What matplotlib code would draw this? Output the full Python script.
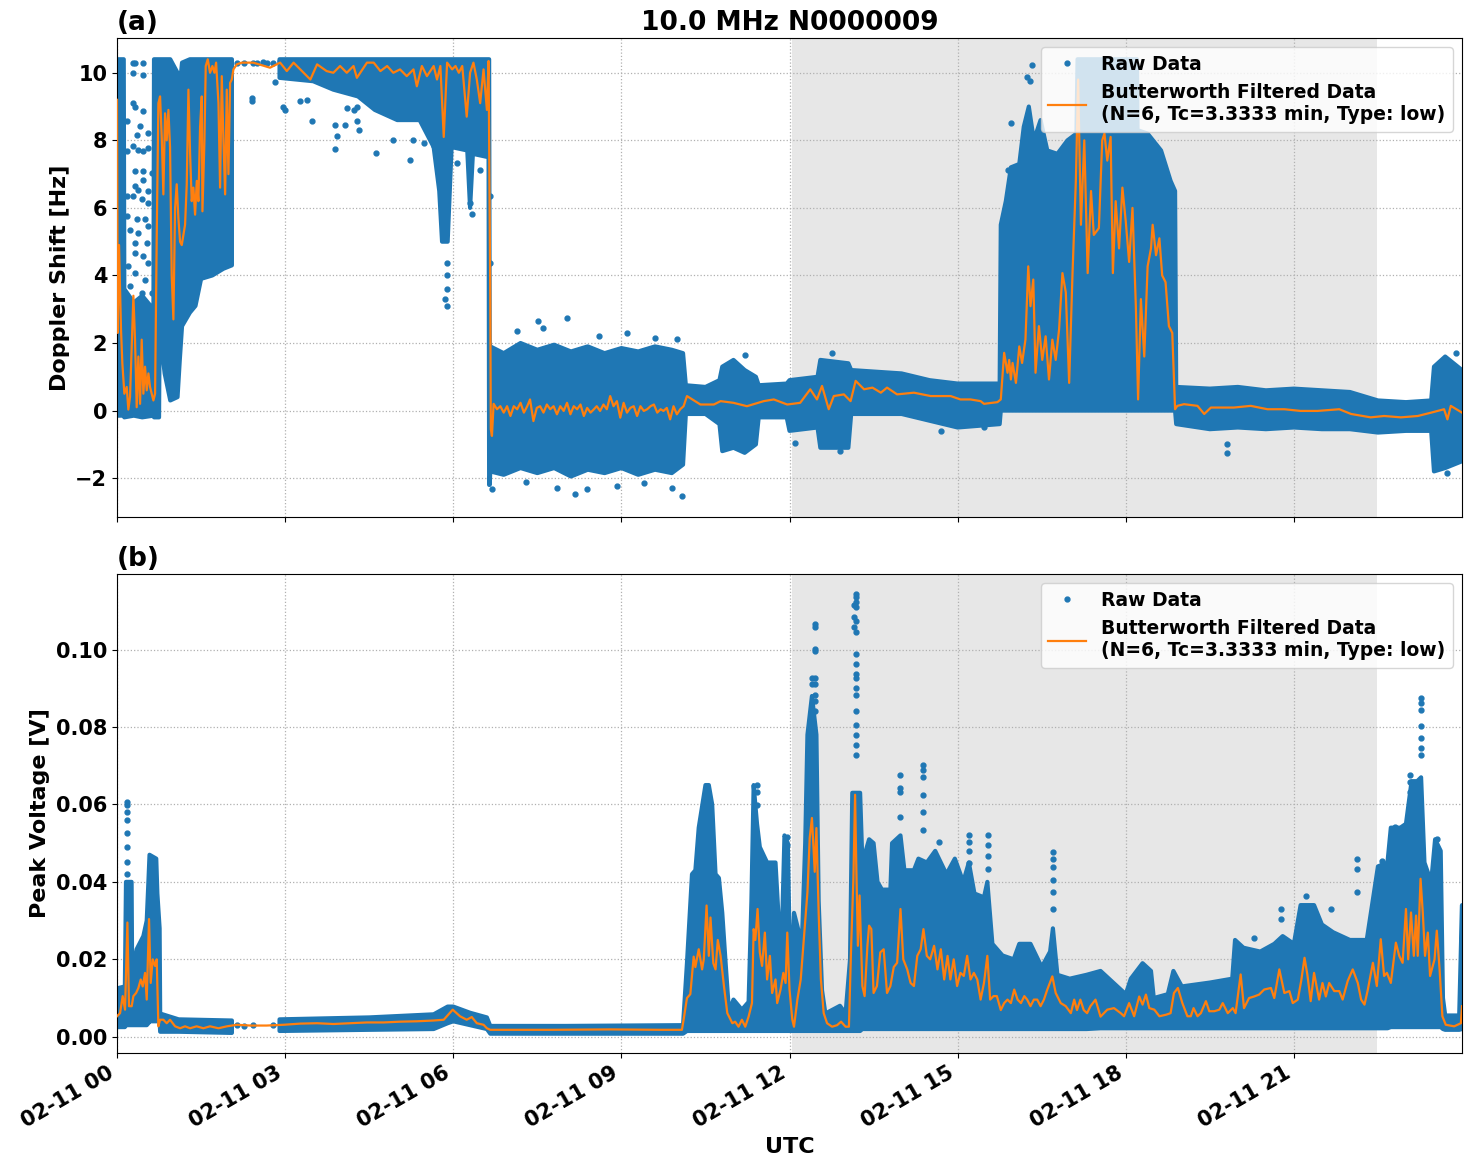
import numpy as np
import pandas as pd
import matplotlib
matplotlib.use("Agg")
import matplotlib.pyplot as plt
import matplotlib.dates as mdates

nan = np.nan

# ---------------- data (hours after 2024-02-11 00:00 UTC) ----------------
# panel (a): envelope of the dense raw Doppler scatter, rows of (hour, low, high)
dop_env = [
    (0.00, -0.15, 10.4), (0.12, -0.15, 10.4), (0.13, -0.2, 3.6), (0.30, -0.15, 3.2), (0.45, -0.2, 3.4),
    (0.65, -0.15, 3.0), (0.66, -0.2, 10.4), (0.75, -0.2, 10.4), (0.76, 2.4, 10.4), (0.85, 1.1, 10.4),
    (0.95, 0.3, 10.4), (1.08, 0.4, 10.0), (1.12, 1.5, 9.6), (1.16, 2.5, 10.3), (1.30, 2.9, 10.4),
    (1.40, 3.1, 10.4), (1.50, 3.9, 10.4), (1.70, 4.0, 10.4), (1.90, 4.2, 10.4), (2.05, 4.3, 10.4),
    (2.06, nan, nan), (2.88, nan, nan), (2.90, 9.85, 10.4), (3.50, 9.75, 10.4), (3.86, 9.5, 10.4),
    (4.30, 9.3, 10.4), (4.60, 8.9, 10.4), (5.00, 8.6, 10.4), (5.40, 8.6, 10.4), (5.65, 7.8, 10.4),
    (5.75, 6.5, 10.4), (5.80, 5.0, 10.4), (5.90, 5.0, 10.4), (5.97, 7.8, 10.4), (6.25, 7.7, 10.4),
    (6.30, 6.0, 10.4), (6.35, 7.6, 10.4), (6.63, 7.5, 10.4), (6.64, -2.2, 10.4), (6.65, -2.2, 2.0),
    (6.66, -1.8, 1.9), (6.90, -1.9, 1.7), (7.20, -1.7, 2.0), (7.50, -1.85, 1.8), (7.80, -1.7, 1.95),
    (8.10, -1.95, 1.75), (8.40, -1.75, 1.9), (8.70, -1.85, 1.7), (9.00, -1.7, 1.85), (9.30, -1.9, 1.75),
    (9.60, -1.75, 1.9), (9.90, -1.85, 1.8), (10.10, -1.6, 1.7), (10.15, -0.1, 0.75), (10.50, -0.1, 0.7),
    (10.75, -0.4, 0.9), (10.80, -1.2, 1.3), (11.00, -1.1, 1.5), (11.20, -1.25, 1.2), (11.40, -1.0, 1.0),
    (11.45, -0.2, 0.75), (11.95, -0.2, 0.8), (12.00, -0.6, 0.9), (12.50, -0.5, 1.0), (12.55, -1.1, 1.5),
    (13.05, -1.1, 1.4), (13.10, -0.1, 1.2), (14.00, -0.1, 1.1), (14.50, -0.3, 0.9), (15.00, -0.5, 0.8),
    (15.75, -0.4, 0.8), (15.77, 0.0, 5.5), (15.86, 0.0, 6.2), (15.95, 0.0, 7.2), (16.10, 0.0, 7.3),
    (16.18, 0.0, 8.4), (16.27, 0.0, 9.0), (16.36, 0.0, 8.0), (16.48, 0.0, 8.6), (16.60, 0.0, 7.7),
    (16.78, 0.0, 7.6), (16.96, 0.0, 8.0), (17.12, 0.0, 8.2), (17.14, 0.0, 10.4), (18.20, 0.0, 10.4),
    (18.21, 0.0, 8.3), (18.39, 0.0, 8.2), (18.63, 0.0, 7.7), (18.80, 0.0, 6.8), (18.88, 0.0, 6.5),
    (18.90, -0.4, 0.7), (19.50, -0.55, 0.65), (20.00, -0.5, 0.7), (20.50, -0.55, 0.6), (21.00, -0.5, 0.65),
    (21.50, -0.55, 0.6), (22.00, -0.55, 0.55), (22.50, -0.65, 0.3), (23.00, -0.6, 0.25), (23.45, -0.6, 0.3),
    (23.50, -1.8, 1.3), (23.70, -1.7, 1.6), (24.00, -1.5, 1.2),
]
dop_env_t = [r[0] for r in dop_env]
dop_env_lo = [r[1] for r in dop_env]
dop_env_hi = [r[2] for r in dop_env]

# panel (a): isolated raw points outside the dense band
dop_pts_t = [0.292, 0.321, 0.47, 0.292, 0.47, 0.292, 0.321, 0.47, 0.173, 0.411, 0.351, 0.56, 0.292, 0.381,
             0.56, 0.173, 0.47, 0.321, 0.47, 0.619, 0.47, 0.321, 0.381, 0.56, 0.173, 0.292, 0.44, 0.56,
             0.173, 0.351, 0.5, 0.232, 0.56, 0.381, 0.321, 0.53, 0.321, 0.47, 0.202, 0.56, 0.321, 0.5,
             0.232, 0.619, 0.44, 0.321,
             2.14, 2.26, 2.43, 2.40, 2.40, 2.50, 2.60, 2.68, 2.79, 2.82, 2.91, 2.97, 3.00,
             3.27, 3.39, 3.48, 3.89, 3.92, 3.89, 4.07, 4.10, 4.22, 4.28, 4.28, 4.31,
             4.63, 4.93, 5.23, 5.29, 5.47, 5.65, 5.86, 5.89, 5.89, 5.89, 5.89, 6.07, 6.30, 6.33, 6.48,
             6.54, 6.66, 6.66,
             7.13, 7.52, 7.61, 8.03, 8.60, 9.10, 9.60, 9.99, 6.69, 7.30, 7.85, 8.18, 8.39, 8.92, 9.40,
             9.90, 10.08,
             11.20, 12.10, 12.75, 12.90, 14.70, 15.47, 15.89, 15.95, 16.24, 16.30, 16.33, 19.80, 19.80,
             23.68, 23.74, 23.90]
dop_pts_v = [10.29, 10.29, 10.29, 9.99, 9.94, 9.10, 9.0, 8.86, 8.56, 8.41, 8.17, 8.22, 7.82, 7.72,
             7.77, 7.67, 7.67, 7.08, 7.08, 7.03, 6.84, 6.64, 6.54, 6.49, 6.35, 6.35, 6.25, 6.15,
             5.76, 5.66, 5.66, 5.36, 5.46, 5.26, 4.97, 4.97, 4.67, 4.57, 4.27, 4.37, 4.08, 3.88,
             3.68, 3.49, 3.49, 3.09,
             10.29, 10.29, 10.29, 9.25, 9.15, 10.30, 10.32, 10.28, 10.29, 9.74, 10.34, 9.0, 8.91,
             9.15, 9.20, 8.56, 8.46, 8.12, 7.73, 8.46, 8.96, 8.91, 8.56, 9.0, 8.32,
             7.63, 8.02, 7.43, 8.02, 7.92, 7.82, 3.30, 4.37, 4.0, 3.59, 3.10, 7.33, 6.15, 5.81, 7.13,
             8.32, 6.35, 4.37,
             2.35, 2.65, 2.45, 2.75, 2.2, 2.3, 2.15, 2.12, -2.33, -2.1, -2.28, -2.48, -2.33, -2.23, -2.13,
             -2.28, -2.53,
             1.66, -0.95, 1.7, -1.2, -0.6, -0.5, 7.13, 8.5, 9.86, 9.76, 10.24, -1.0, -1.26,
             1.5, -1.85, 1.7]

# panel (a): Butterworth filtered Doppler shift
dop_filt_t = [0.0, 0.012, 0.036, 0.071, 0.095, 0.131, 0.173, 0.202, 0.232, 0.292, 0.321, 0.351, 0.381, 0.411,
              0.44, 0.47, 0.5, 0.53, 0.56, 0.589, 0.619, 0.649, 0.679, 0.708, 0.738, 0.768, 0.8, 0.827,
              0.857, 0.887, 0.917, 0.946, 0.976, 1.006, 1.036, 1.065, 1.095, 1.125, 1.155, 1.185, 1.214,
              1.244, 1.274, 1.304, 1.333, 1.363, 1.393, 1.423, 1.452, 1.482, 1.512, 1.524, 1.56, 1.583,
              1.619, 1.66, 1.702, 1.738, 1.768, 1.81, 1.839, 1.869, 1.899, 1.929, 1.958, 1.988, 2.018,
              2.048, 2.077, 2.137, 2.226,
              2.43, 2.73, 2.91, 3.03, 3.15, 3.27, 3.45, 3.57, 3.74, 3.86, 3.98, 4.1, 4.22, 4.28, 4.46,
              4.58, 4.7, 4.82, 4.93, 5.05, 5.17, 5.29, 5.35, 5.44, 5.53, 5.65, 5.71, 5.77, 5.83, 5.89,
              5.98, 6.04, 6.1, 6.16, 6.24, 6.3, 6.36, 6.42, 6.48, 6.54, 6.6, 6.63, 6.66, 6.67, 6.69, 6.72,
              6.78, 6.84, 6.90, 6.96, 7.02, 7.08, 7.14, 7.20, 7.26, 7.32, 7.37, 7.43, 7.49, 7.55, 7.61,
              7.67, 7.73, 7.79, 7.85, 7.91, 7.97, 8.03, 8.09, 8.15, 8.21, 8.27, 8.33, 8.39, 8.45, 8.51,
              8.56, 8.62, 8.68, 8.74, 8.80, 8.86, 8.92, 8.98, 9.04, 9.10, 9.16, 9.22, 9.28, 9.34, 9.40,
              9.46, 9.52, 9.58, 9.64, 9.70, 9.75, 9.81, 9.87, 9.93, 9.99, 10.05, 10.11,
              10.17, 10.41, 10.65, 10.77, 11.0, 11.24, 11.54, 11.72, 11.96, 12.19, 12.37, 12.49, 12.58,
              12.70, 12.79, 12.97, 13.09, 13.18, 13.33, 13.48, 13.63, 13.74, 13.92, 14.22, 14.52,
              14.875, 15.05, 15.23, 15.41, 15.47, 15.71, 15.77, 15.83, 15.89, 15.92, 15.95, 15.98, 16.04,
              16.1, 16.15, 16.21, 16.26, 16.3, 16.35, 16.39, 16.45, 16.51, 16.57, 16.63, 16.69, 16.75,
              16.81, 16.87, 16.93, 16.99, 17.05, 17.11, 17.15, 17.2, 17.26, 17.32, 17.38, 17.43, 17.52,
              17.58, 17.62, 17.67, 17.73, 17.77, 17.82, 17.88, 17.94, 18.0, 18.06, 18.12, 18.18, 18.22,
              18.27, 18.33, 18.39, 18.45, 18.48, 18.54, 18.6, 18.65, 18.71, 18.77, 18.83, 18.88, 18.92,
              19.04, 19.28, 19.40, 19.52, 19.93, 20.23, 20.53, 20.83, 21.12, 21.42, 21.81, 22.02, 22.37,
              22.61, 22.91, 23.21, 23.45, 23.68, 23.74, 23.8, 24.0]
dop_filt = [9.2, 2.3, 4.9, 2.4, 1.4, 0.5, 0.7, 0.03, 0.4, 3.4, 2.1, 0.1, 1.6, 0.2,
            2.1, 0.5, 1.3, 0.6, 1.1, 0.7, 0.5, 0.3, 0.5, 5.1, 9.1, 9.3, 8.0, 6.4,
            8.8, 8.0, 8.9, 7.8, 4.0, 2.7, 6.0, 6.7, 5.7, 5.0, 4.9, 5.2, 5.5,
            6.7, 9.5, 7.6, 6.2, 6.6, 5.8, 6.8, 6.2, 8.4, 9.3, 5.9, 8.0, 10.2,
            10.4, 10.0, 10.2, 10.0, 10.3, 9.1, 6.6, 9.9, 8.0, 6.4, 9.5, 7.0, 9.7,
            9.8, 10.1, 10.25, 10.3,
            10.3, 10.15, 10.3, 10.05, 10.3, 10.1, 9.8, 10.25, 10.05, 10.0, 10.2, 10.0, 10.2, 9.85, 10.3,
            10.3, 10.05, 10.2, 10.0, 10.1, 9.9, 10.1, 9.6, 10.2, 9.9, 10.2, 9.8, 10.2, 8.1, 10.3,
            10.1, 10.2, 10.0, 10.2, 8.7, 10.0, 10.3, 9.8, 9.1, 10.1, 8.9, 10.35, 3.4, -0.55, -0.75, 0.2,
            0.04, 0.13, -0.06, 0.13, -0.16, 0.13, 0.04, 0.23, -0.06, 0.13, 0.33, -0.31, 0.08, 0.13, -0.06,
            0.18, 0.04, 0.13, -0.11, 0.13, -0.01, 0.23, -0.11, 0.13, 0.04, 0.18, -0.16, 0.08, -0.06, 0.04,
            0.13, -0.01, 0.18, 0.04, 0.43, 0.13, 0.28, -0.21, 0.23, -0.06, 0.08, 0.13, -0.16, 0.13, -0.01,
            0.04, 0.13, 0.18, -0.06, 0.04, -0.01, 0.08, -0.26, 0.13, -0.11, 0.04, 0.13,
            0.43, 0.18, 0.18, 0.28, 0.23, 0.13, 0.28, 0.33, 0.18, 0.23, 0.63, 0.33, 0.73,
            0.04, 0.43, 0.48, 0.28, 0.88, 0.63, 0.68, 0.53, 0.68, 0.48, 0.53, 0.43,
            0.43, 0.33, 0.33, 0.28, 0.2, 0.25, 0.33, 1.71, 1.12, 1.5, 0.92, 1.41, 0.82,
            1.9, 1.41, 2.1, 4.27, 3.09, 3.88, 1.12, 2.5, 1.5, 2.2, 0.92, 2.1, 1.5,
            2.4, 4.07, 3.5, 0.82, 4.07, 6.83, 9.8, 5.5, 8.0, 4.07, 6.5, 5.2, 5.4,
            8.0, 8.2, 7.4, 8.1, 4.07, 6.2, 4.8, 6.6, 5.6, 4.4, 6.0, 3.09, 0.33,
            3.3, 1.6, 4.27, 4.8, 5.5, 4.6, 5.1, 4.0, 3.8, 2.5, 2.3, 0.04, 0.14,
            0.19, 0.14, -0.1, 0.09, 0.09, 0.14, 0.04, 0.04, -0.01, -0.01, 0.04, -0.1, -0.2,
            -0.16, -0.2, -0.16, -0.06, 0.04, -0.26, 0.14, -0.06]

# panel (b): envelope of the dense raw peak-voltage scatter, rows of (hour, low, high)
volt_env = [
    (0.00, 0.0025, 0.0125), (0.14, 0.0025, 0.013), (0.16, 0.003, 0.040), (0.26, 0.003, 0.040),
    (0.27, 0.003, 0.0165), (0.35, 0.003, 0.0226), (0.47, 0.003, 0.026), (0.53, 0.003, 0.030),
    (0.56, 0.0035, 0.040), (0.58, 0.004, 0.047), (0.70, 0.004, 0.046), (0.72, 0.004, 0.037),
    (0.76, 0.004, 0.028), (0.77, 0.0013, 0.006), (1.10, 0.0013, 0.0045), (2.05, 0.001, 0.0042),
    (2.06, nan, nan), (2.88, nan, nan), (2.90, 0.0015, 0.0045), (4.50, 0.0018, 0.005),
    (5.65, 0.002, 0.0058), (5.90, 0.0035, 0.0078), (6.00, 0.004, 0.0078), (6.30, 0.003, 0.0062),
    (6.60, 0.002, 0.005), (6.66, 0.0008, 0.0028), (8.00, 0.0008, 0.0028), (10.10, 0.0008, 0.003),
    (10.17, 0.0015, 0.019), (10.26, 0.0015, 0.042), (10.32, 0.0015, 0.043), (10.38, 0.0015, 0.054),
    (10.50, 0.0015, 0.065), (10.56, 0.0015, 0.065), (10.62, 0.0015, 0.060), (10.68, 0.0015, 0.042),
    (10.74, 0.0015, 0.041), (10.80, 0.0015, 0.032), (10.86, 0.0015, 0.019), (10.92, 0.0015, 0.0065),
    (11.00, 0.0015, 0.0096), (11.15, 0.0015, 0.007), (11.27, 0.0015, 0.009), (11.32, 0.0015, 0.035),
    (11.36, 0.0015, 0.065), (11.42, 0.0015, 0.055), (11.47, 0.0015, 0.049), (11.60, 0.0015, 0.045),
    (11.75, 0.0015, 0.045), (11.80, 0.0015, 0.032), (11.87, 0.0015, 0.030), (11.91, 0.0015, 0.052),
    (11.97, 0.0015, 0.050), (12.02, 0.0015, 0.010), (12.08, 0.0015, 0.032), (12.22, 0.0015, 0.024),
    (12.28, 0.0015, 0.050), (12.32, 0.0015, 0.078), (12.40, 0.0015, 0.088), (12.48, 0.0015, 0.078),
    (12.52, 0.0015, 0.035), (12.58, 0.0015, 0.012), (12.64, 0.0015, 0.006), (12.90, 0.0015, 0.008),
    (13.00, 0.0015, 0.006), (13.08, 0.0015, 0.020), (13.12, 0.0015, 0.063), (13.26, 0.0015, 0.063),
    (13.30, 0.002, 0.045), (13.42, 0.002, 0.051), (13.50, 0.002, 0.050), (13.57, 0.002, 0.040),
    (13.65, 0.002, 0.038), (13.80, 0.002, 0.038), (13.83, 0.002, 0.050), (13.98, 0.002, 0.052),
    (14.05, 0.002, 0.043), (14.22, 0.002, 0.043), (14.30, 0.002, 0.046), (14.45, 0.002, 0.045),
    (14.60, 0.002, 0.048), (14.80, 0.002, 0.042), (14.95, 0.002, 0.046), (15.10, 0.002, 0.040),
    (15.20, 0.002, 0.045), (15.30, 0.002, 0.037), (15.47, 0.002, 0.036), (15.53, 0.002, 0.040),
    (15.62, 0.002, 0.024), (15.80, 0.002, 0.021), (16.00, 0.002, 0.020), (16.10, 0.002, 0.024),
    (16.30, 0.002, 0.024), (16.50, 0.002, 0.018), (16.65, 0.002, 0.022), (16.70, 0.002, 0.028),
    (16.78, 0.002, 0.016), (17.00, 0.002, 0.015), (17.30, 0.002, 0.016), (17.55, 0.0022, 0.017),
    (18.00, 0.0022, 0.011), (18.09, 0.0022, 0.015), (18.30, 0.0022, 0.019), (18.45, 0.0022, 0.017),
    (18.50, 0.0022, 0.010), (18.75, 0.0022, 0.011), (18.85, 0.0022, 0.017), (19.00, 0.0022, 0.013),
    (19.50, 0.0022, 0.014), (19.90, 0.0022, 0.015), (19.95, 0.0022, 0.025), (20.10, 0.0022, 0.023),
    (20.40, 0.0022, 0.022), (20.65, 0.0022, 0.024), (20.80, 0.0022, 0.026), (21.00, 0.0022, 0.024),
    (21.12, 0.0022, 0.034), (21.36, 0.0022, 0.034), (21.50, 0.0022, 0.029), (21.70, 0.0022, 0.027),
    (22.00, 0.0022, 0.025), (22.30, 0.0022, 0.025), (22.50, 0.0022, 0.044), (22.67, 0.0022, 0.045),
    (22.73, 0.0025, 0.054), (22.90, 0.0025, 0.054), (23.00, 0.0025, 0.055), (23.10, 0.0025, 0.066),
    (23.20, 0.0025, 0.066), (23.27, 0.0025, 0.067), (23.33, 0.0025, 0.045), (23.45, 0.0025, 0.040),
    (23.52, 0.0025, 0.051), (23.62, 0.0025, 0.048), (23.66, 0.002, 0.010), (23.70, 0.0018, 0.0055),
    (23.95, 0.0018, 0.0055), (24.00, 0.002, 0.034),
]
volt_env_t = [r[0] for r in volt_env]
volt_env_lo = [r[1] for r in volt_env]
volt_env_hi = [r[2] for r in volt_env]

# panel (b): isolated raw points (spike columns)
volt_pts_t = [0.185] * 8 + [12.40] * 2 + [12.46] * 9 + [13.15] * 3 + [13.18] * 17 + [13.98] * 4 + \
             [14.39] * 6 + [14.66] + [15.20] * 5 + [15.55] * 4 + [16.70] * 6 + [11.42] * 3 + [11.96] * 2 + \
             [20.29, 20.77, 20.77, 21.21, 21.66, 22.13, 22.13, 22.13, 22.58, 22.81, 23.07, 23.07, 23.07] + \
             [23.27] * 7 + [23.56, 2.14, 2.26, 2.43, 2.79]
volt_pts_v = [0.0607, 0.0598, 0.0581, 0.0559, 0.0525, 0.049, 0.0451, 0.0421,
              0.0927, 0.091,
              0.1066, 0.1057, 0.1001, 0.0996, 0.0927, 0.091, 0.0883, 0.0867, 0.084,
              0.1114, 0.1083, 0.1057,
              0.1144, 0.1135, 0.1122, 0.1109, 0.1074, 0.1044, 0.0988, 0.0962, 0.0936, 0.0927, 0.0901, 0.0883,
              0.084, 0.0806, 0.078, 0.0754, 0.0728,
              0.0676, 0.0642, 0.0633, 0.0568,
              0.0702, 0.069, 0.0672, 0.0624, 0.0581, 0.0533,
              0.0503,
              0.052, 0.0503, 0.0481, 0.045, 0.0408,
              0.052, 0.0494, 0.0468, 0.0434,
              0.0477, 0.046, 0.0438, 0.0404, 0.0373, 0.033,
              0.065, 0.0633, 0.0598,
              0.0516, 0.0494,
              0.0256, 0.033, 0.0304, 0.0364, 0.033, 0.046, 0.0434, 0.0373, 0.0455, 0.0542, 0.0676, 0.0659, 0.0633,
              0.0875, 0.0862, 0.0845, 0.0802, 0.0771, 0.0745, 0.0728,
              0.0512, 0.0031, 0.0029, 0.003, 0.0031]

# panel (b): Butterworth filtered peak voltage
volt_filt_t = [0.0, 0.054, 0.101, 0.143, 0.185, 0.214, 0.262, 0.292, 0.34, 0.381, 0.423, 0.458, 0.5, 0.53,
               0.571, 0.601, 0.637, 0.679, 0.708, 0.738, 0.768, 0.827, 0.887, 0.946, 1.036, 1.125, 1.214,
               1.304, 1.42, 1.54, 1.66, 1.81, 1.96, 2.14, 2.38, 2.67, 2.97, 3.27, 3.57, 3.86, 4.16, 4.46,
               4.76, 5.05, 5.35, 5.65, 5.83, 5.99, 6.12, 6.24, 6.33, 6.42, 6.54, 6.6, 6.66, 7.74, 8.8, 9.7,
               10.08, 10.11, 10.17, 10.23, 10.29, 10.32, 10.38, 10.44, 10.47, 10.52, 10.56, 10.59, 10.64,
               10.68, 10.72, 10.77, 10.83, 10.89, 10.98, 11.03, 11.09, 11.15, 11.21, 11.27, 11.33, 11.36,
               11.39, 11.43, 11.47, 11.51, 11.56, 11.60, 11.65, 11.69, 11.75, 11.78, 11.84, 11.89, 11.93,
               11.96, 12.0, 12.05, 12.08, 12.14, 12.2, 12.27, 12.32, 12.36, 12.40, 12.45, 12.48, 12.52,
               12.56, 12.61, 12.67, 12.76, 12.85, 12.92, 13.0, 13.06, 13.10, 13.14, 13.17, 13.19, 13.22,
               13.25, 13.30, 13.34, 13.39, 13.42, 13.46, 13.50, 13.56, 13.62,
               13.68, 13.74, 13.80, 13.86, 13.92, 13.98, 14.03, 14.10, 14.16, 14.22, 14.28, 14.34, 14.39,
               14.45, 14.51, 14.58, 14.64, 14.70, 14.76, 14.82, 14.87, 14.93, 14.99, 15.05, 15.11, 15.17,
               15.23, 15.29, 15.35, 15.41, 15.47, 15.53, 15.58, 15.64, 15.70, 15.77, 15.83, 15.89, 15.95,
               16.01, 16.07, 16.13, 16.19, 16.24, 16.30, 16.36, 16.42, 16.48, 16.54, 16.60, 16.69, 16.75,
               16.84, 16.93, 17.02, 17.08, 17.13, 17.19, 17.25, 17.31, 17.37, 17.46, 17.55,
               17.67, 17.79, 17.91, 17.97, 18.06, 18.15, 18.24, 18.3, 18.36, 18.42, 18.51, 18.6, 18.72,
               18.80, 18.86, 18.93, 19.01, 19.10, 19.16, 19.21, 19.28, 19.34, 19.43, 19.49, 19.58, 19.67,
               19.73, 19.82, 19.91, 19.96, 20.05, 20.11, 20.20, 20.29, 20.38, 20.47, 20.59, 20.65, 20.74,
               20.83, 20.92, 20.98, 21.07, 21.13, 21.19, 21.24, 21.30, 21.36, 21.45, 21.51, 21.57, 21.63,
               21.72, 21.81, 21.87, 21.96, 22.05, 22.14, 22.20, 22.26, 22.32, 22.41, 22.48, 22.55, 22.61,
               22.66, 22.73, 22.82, 22.88, 22.94, 23.0, 23.04, 23.09, 23.14, 23.18, 23.21, 23.26, 23.30,
               23.34, 23.39, 23.43, 23.51, 23.55, 23.60, 23.65, 23.71, 23.86, 23.98, 24.0]
volt_filt = [0.0053, 0.0061, 0.0105, 0.0070, 0.0295, 0.0079, 0.0079, 0.0105, 0.0113, 0.0126, 0.0148, 0.013,
             0.0165, 0.0096, 0.0304, 0.0139, 0.020, 0.0183, 0.020, 0.0027, 0.0044, 0.0044, 0.0035, 0.0044,
             0.0027, 0.0022, 0.0027, 0.0022, 0.0027, 0.0022, 0.0027, 0.0022, 0.0027, 0.0031, 0.0029, 0.0029,
             0.0031, 0.0034, 0.0035, 0.0033, 0.0035, 0.0037, 0.0037, 0.0039, 0.0040, 0.0042, 0.0044, 0.0070,
             0.0053, 0.0044, 0.0051, 0.0035, 0.0031, 0.0022, 0.0018, 0.0018, 0.0019, 0.0018,
             0.0018, 0.0044, 0.010, 0.011, 0.0207, 0.018, 0.0226, 0.0174, 0.020, 0.0339, 0.0209, 0.0308,
             0.019, 0.0174, 0.025, 0.0209, 0.0131, 0.0061, 0.0035, 0.0039, 0.0026, 0.0044, 0.0026, 0.0052,
             0.0087, 0.0278, 0.025, 0.033, 0.0218, 0.0183, 0.0269, 0.0148, 0.0209, 0.0113, 0.0148, 0.0087,
             0.0122, 0.0165, 0.0139, 0.0269, 0.0122, 0.0044, 0.0026, 0.0096, 0.0148, 0.0278, 0.0374, 0.0513,
             0.0565, 0.0426, 0.0539, 0.032, 0.0148, 0.0061, 0.0035, 0.0026, 0.003, 0.0039, 0.0026, 0.0026,
             0.0235, 0.0409, 0.0625, 0.0452, 0.0235, 0.0365, 0.0131, 0.0105, 0.0235, 0.0287, 0.0278,
             0.0113, 0.0131, 0.0218,
             0.0226, 0.0113, 0.0131, 0.018, 0.0191, 0.033, 0.020, 0.0174, 0.0139, 0.0131, 0.0209, 0.0226,
             0.0278, 0.0209, 0.020, 0.0235, 0.0174, 0.0226, 0.0148, 0.0209, 0.0148, 0.020, 0.0131, 0.0165,
             0.0157, 0.0209, 0.0148, 0.0165, 0.0148, 0.0096, 0.0139, 0.0209, 0.0096, 0.0105, 0.0105,
             0.0069, 0.0087, 0.0096, 0.0087, 0.0122, 0.0096, 0.0087, 0.0105, 0.0096, 0.0079, 0.0096,
             0.0096, 0.0079, 0.0096, 0.0122, 0.0156, 0.0113, 0.0087, 0.0079, 0.0061, 0.0096, 0.0069,
             0.0096, 0.0069, 0.0061, 0.0079, 0.0096, 0.0052,
             0.0070, 0.0074, 0.0061, 0.0053, 0.0087, 0.0053, 0.0104, 0.0083, 0.0109, 0.0074, 0.0070,
             0.0053, 0.0057, 0.0061, 0.0113, 0.0126, 0.0087, 0.0053, 0.0053, 0.0074, 0.0053, 0.0061,
             0.0092, 0.0066, 0.0066, 0.0070, 0.0087, 0.0061, 0.0074, 0.0061, 0.0161, 0.0074, 0.0100,
             0.0104, 0.0109, 0.0122, 0.0126, 0.0100, 0.0174, 0.0113, 0.0118, 0.0087, 0.0096, 0.0144,
             0.0204, 0.0161, 0.0092, 0.0165, 0.0096, 0.0139, 0.0104, 0.0139, 0.0118, 0.0118, 0.0096,
             0.0144, 0.0174, 0.0139, 0.0096, 0.0083, 0.0122, 0.0191, 0.0131, 0.0252, 0.0157, 0.0165,
             0.0139, 0.0243, 0.0209, 0.0191, 0.0330, 0.0200, 0.0321, 0.0209, 0.0313, 0.0209, 0.0408,
             0.0321, 0.0209, 0.0269, 0.0157, 0.0200, 0.0274, 0.0174, 0.0053, 0.0031, 0.0027, 0.0035, 0.0079]

night_start, night_end = 12.05, 22.49   # shaded interval (hours)
day0 = pd.Timestamp("2024-02-11")


def to_time(hours):
    return day0 + pd.to_timedelta(np.asarray(hours, dtype=float), unit="h")


plt.rcParams["font.weight"] = "bold"
plt.rcParams["axes.labelweight"] = "bold"
plt.rcParams["axes.titleweight"] = "bold"

fig, (ax1, ax2) = plt.subplots(2, 1, sharex=True, figsize=(14.72, 11.72), dpi=100)

filt_label = "Butterworth Filtered Data\n(N=6, Tc=3.3333 min, Type: low)"

panels = [
    (ax1, dop_env_t, dop_env_lo, dop_env_hi, dop_pts_t, dop_pts_v, dop_filt_t, dop_filt),
    (ax2, volt_env_t, volt_env_lo, volt_env_hi, volt_pts_t, volt_pts_v, volt_filt_t, volt_filt),
]
for ax, et, elo, ehi, pt, pv, ft, fv in panels:
    ax.axvspan(day0 + pd.Timedelta(hours=night_start), day0 + pd.Timedelta(hours=night_end),
               color="#e7e7e7", zorder=0.5, lw=0)
    ax.fill_between(to_time(et), elo, ehi, facecolor="C0", edgecolor="C0",
                    linewidth=3, joinstyle="round", zorder=2)
    ax.plot(to_time(pt), pv, ".", color="C0", markersize=7, zorder=2, label="Raw Data")
    ax.plot(to_time(ft), fv, color="C1", lw=1.6, zorder=3, label=filt_label)
    ax.grid(True, linestyle=":", color="#b0b0b0", lw=0.9)
    ax.tick_params(labelsize=15)
    ax.legend(loc="upper right", fontsize=13.5)

ax1.set_ylim(-3.15, 11.03)
ax1.set_ylabel("Doppler Shift [Hz]", fontsize=16)
ax1.set_title("10.0 MHz N0000009", fontsize=19)
ax1.set_title("(a)", loc="left", fontsize=19)

ax2.set_ylim(-0.0042, 0.1195)
ax2.set_ylabel("Peak Voltage [V]", fontsize=16)
ax2.set_title("(b)", loc="left", fontsize=19)
ax2.set_xlabel("UTC", fontsize=16)

ax2.set_xlim(day0, day0 + pd.Timedelta(hours=23, minutes=59, seconds=59))
ax2.xaxis.set_major_locator(mdates.HourLocator(byhour=range(0, 24, 3)))
ax2.xaxis.set_major_formatter(mdates.DateFormatter("%m-%d %H"))

fig.autofmt_xdate()
fig.subplots_adjust(left=0.0795, right=0.9932, top=0.9676, bottom=0.1015, hspace=0.119)

fig.savefig("out.png", dpi=100)
